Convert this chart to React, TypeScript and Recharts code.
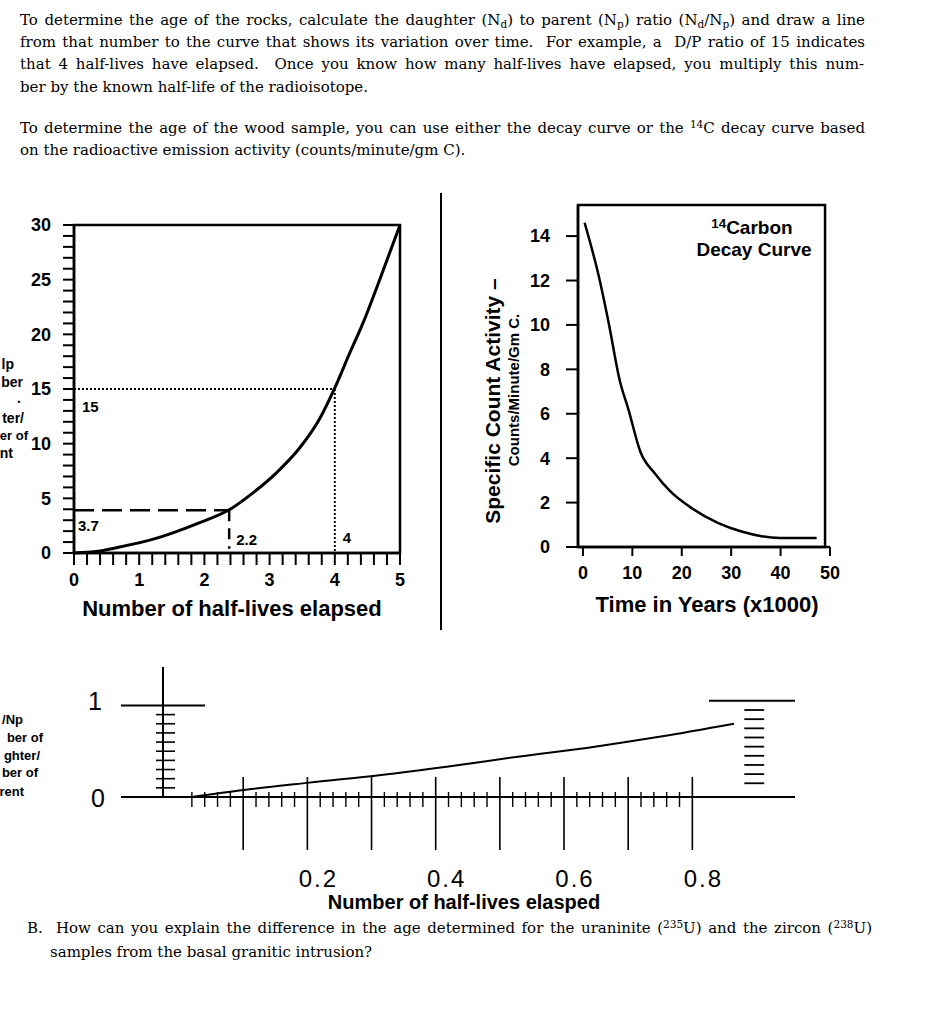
import React from 'react';
import { LineChart, Line, XAxis, YAxis, ReferenceLine, ReferenceArea, ReferenceDot } from 'recharts';

const SANS = '"Liberation Sans", Arial, sans-serif';
const SERIF = '"DejaVu Serif", "Liberation Serif", serif';

// D/P ratio curve, 0..5 half-lives
const halfLives = [0, 0.37, 0.63, 1.19, 1.91, 2.38, 2.74, 3.1, 3.46, 3.77, 4.0, 4.23, 4.43, 4.67, 5];
const dpRatio = [0, 0.15, 0.46, 1.22, 2.74, 3.95, 5.48, 7.31, 9.6, 12.3, 15.1, 18.3, 21.0, 24.7, 30];
const halfLifeTicks = Array.from({ length: 26 }, (_, i) => +(i * 0.2).toFixed(1));
const ratioTicks = Array.from({ length: 31 }, (_, i) => i);

// worked examples drawn on the curve
const exampleRatio = 15;
const exampleHalfLives = 4;
const sampleRatio = 3.9;
const sampleHalfLives = 2.38;
const annotationLabels = ['15', '4', '3.7', '2.2'];

// 14C decay curve
const years = [0.34, 3.2, 5.2, 7.5, 9.2, 11.6, 14.6, 17.7, 22, 27.4, 32.1, 39.9, 47.3];
const activity = [14.6, 12.2, 10.1, 7.45, 6.2, 4.3, 3.3, 2.5, 1.75, 1.08, 0.7, 0.4, 0.4];
const yearTicks = [0, 10, 20, 30, 40, 50];
const activityTicks = [0, 2, 4, 6, 8, 10, 12, 14];

// fine-scale curve, 0..0.9 half-lives
const fineHalfLives = [0.02, 0.101, 0.203, 0.315, 0.417, 0.528, 0.648, 0.751, 0.865];
const fineRatio = [0, 0.077, 0.157, 0.24, 0.331, 0.44, 0.55, 0.66, 0.8];
const fineXTicks = Array.from({ length: 40 }, (_, i) => +((i + 1) * 0.02).toFixed(2));
const fineXLabels = [0.2, 0.4, 0.6, 0.8];
const fineYTicks = [0, 0.1, 0.2, 0.3, 0.4, 0.5, 0.6, 0.7, 0.8, 0.9, 1];
// hand-drawn scale at the right end
const bracketTicks = [0.15, 0.25, 0.35, 0.45, 0.55, 0.65, 0.75, 0.85, 0.95];
const bracketTop = 1.05;

const curveData = halfLives.map((x, i) => ({ x, y: dpRatio[i] }));
const carbonData = years.map((x, i) => ({ x, y: activity[i] }));
const fineData = fineHalfLives.map((x, i) => ({ x, y: fineRatio[i] }));

const boldTick = { fill: '#000', fontSize: 18, fontWeight: 700, fontFamily: SANS };
const axisStroke = { stroke: '#000', strokeWidth: 2.5 };
const tickStroke = { stroke: '#000', strokeWidth: 2 };

const FineXTick = (props: any) => {
  const { x, y, payload } = props;
  const v = payload.value;
  const major = Math.abs(v * 10 - Math.round(v * 10)) < 1e-6;
  const labelled = fineXLabels.some(l => Math.abs(l - v) < 1e-6);
  return (
    <g>
      {major ? (
        <line x1={x} x2={x} y1={y - 20} y2={y + 53} stroke="#000" strokeWidth={1.6} />
      ) : (
        <line x1={x} x2={x} y1={y - 5} y2={y + 10} stroke="#000" strokeWidth={1.4} />
      )}
      {labelled && (
        <text x={x + 11} y={y + 81} textAnchor="middle" dominantBaseline="central"
          fontSize={24} letterSpacing={2} fontFamily={SANS} fill="#000">{v}</text>
      )}
    </g>
  );
};

const FineYTick = (props: any) => {
  const { x, y, payload } = props;
  const v = payload.value;
  if (v === 0) {
    return (
      <g>
        <line x1={x - 42} x2={x} y1={y} y2={y} stroke="#000" strokeWidth={2} />
        <text x={x - 65} y={y + 1} textAnchor="middle" dominantBaseline="central" fontSize={25} fontFamily={SANS} fill="#000">0</text>
      </g>
    );
  }
  if (v === 1) {
    return (
      <g>
        <line x1={x - 42} x2={x + 42} y1={y} y2={y} stroke="#000" strokeWidth={2} />
        <text x={x - 68} y={y - 4} textAnchor="middle" dominantBaseline="central" fontSize={25} fontFamily={SANS} fill="#000">1</text>
      </g>
    );
  }
  return <line x1={x - 7} x2={x + 12} y1={y} y2={y} stroke="#000" strokeWidth={1.6} />;
};

const TextRow = ({ top, left, width, justify, size = 15, children }: any) => (
  <div style={{
    position: 'absolute', top, left, width, fontFamily: SERIF, fontSize: size, lineHeight: '22px',
    textAlign: justify ? 'justify' : 'left', textAlignLast: justify ? 'justify' : 'left',
  }}>{children}</div>
);

const Sub = ({ children }: any) => (
  <span style={{ fontSize: '0.7em', verticalAlign: '-0.3em', lineHeight: 0 }}>{children}</span>
);
const Sup = ({ children }: any) => (
  <span style={{ fontSize: '0.7em', verticalAlign: '0.45em', lineHeight: 0 }}>{children}</span>
);

const Centered = ({ cx, cy, size, width = 400, children }: any) => (
  <div style={{
    position: 'absolute', left: cx - width / 2, top: cy - size * 0.6, width, textAlign: 'center',
    fontFamily: SANS, fontWeight: 700, fontSize: size, lineHeight: `${size * 1.2}px`, whiteSpace: 'nowrap',
  }}>{children}</div>
);

// the scan cuts these axis titles at the page's left edge; only the visible parts are kept
const Fragment = ({ right, cy, size, children }: any) => (
  <div style={{
    position: 'absolute', right: 928 - right, top: cy - size * 0.6, fontFamily: SANS, fontWeight: 700,
    fontSize: size, lineHeight: `${size * 1.2}px`, whiteSpace: 'nowrap',
  }}>{children}</div>
);

const Rotated = ({ cx, cy, size, children }: any) => (
  <div style={{
    position: 'absolute', left: cx, top: cy, transform: 'translate(-50%, -50%) rotate(-90deg)',
    fontFamily: SANS, fontWeight: 700, fontSize: size, lineHeight: 1, whiteSpace: 'nowrap',
  }}>{children}</div>
);

export default function App() {
  return (
    <div style={{ position: 'absolute', left: 0, top: 0, width: 928, height: 1024, overflow: 'hidden', background: '#fff', color: '#000' }}>
      <TextRow top={9} left={20} width={845} justify>
        To determine the age of the rocks, calculate the daughter (N<Sub>d</Sub>) to parent (N<Sub>p</Sub>) ratio (N<Sub>d</Sub>/N<Sub>p</Sub>) and draw a line
      </TextRow>
      <TextRow top={31} left={20} width={845} justify>
        from that number to the curve that shows its variation over time.&nbsp; For example, a&nbsp; D/P ratio of 15 indicates
      </TextRow>
      <TextRow top={53} left={20} width={844} justify>
        that 4 half-lives have elapsed.&nbsp; Once you know how many half-lives have elapsed, you multiply this num-
      </TextRow>
      <TextRow top={76} left={20} width={845}>
        ber by the known half-life of the radioisotope.
      </TextRow>
      <TextRow top={117} left={20} width={845} justify>
        To determine the age of the wood sample, you can use either the decay curve or the <Sup>14</Sup>C decay curve based
      </TextRow>
      <TextRow top={139} left={20} width={845}>
        on the radioactive emission activity (counts/minute/gm C).
      </TextRow>

      {/* left: D/P ratio vs half-lives */}
      <div style={{ position: 'absolute', left: 0, top: 200 }}>
        <LineChart width={420} height={420} data={curveData} margin={{ top: 25, right: 20, left: 0, bottom: 0 }}
          style={{ fontFamily: SANS }}>
          <XAxis dataKey="x" type="number" domain={[0, 5]} ticks={halfLifeTicks} interval={0} height={67}
            tickSize={12} tickMargin={8} axisLine={axisStroke} tickLine={tickStroke} tick={boldTick}
            tickFormatter={(v: number) => (Number.isInteger(v) ? String(v) : '')} />
          <YAxis type="number" domain={[0, 30]} ticks={ratioTicks} interval={0} width={74}
            tickSize={11} tickMargin={12} axisLine={axisStroke} tickLine={tickStroke} tick={boldTick}
            tickFormatter={(v: number) => (v % 5 === 0 ? String(v) : '')} />
          <ReferenceArea x1={0} x2={5} y1={0} y2={30} fill="none" fillOpacity={0} stroke="#000" strokeWidth={2.5} />
          <ReferenceLine segment={[{ x: 0, y: exampleRatio }, { x: exampleHalfLives, y: exampleRatio }]}
            stroke="#000" strokeWidth={2} strokeDasharray="2 2" />
          <ReferenceLine segment={[{ x: exampleHalfLives, y: exampleRatio }, { x: exampleHalfLives, y: 0 }]}
            stroke="#000" strokeWidth={2} strokeDasharray="2 2" />
          <ReferenceLine segment={[{ x: 0, y: sampleRatio }, { x: sampleHalfLives, y: sampleRatio }]}
            stroke="#000" strokeWidth={2.5} strokeDasharray="20 8" />
          <ReferenceLine segment={[{ x: sampleHalfLives, y: sampleRatio }, { x: sampleHalfLives, y: 0.4 }]}
            stroke="#000" strokeWidth={2.5} strokeDasharray="11 7" />
          <ReferenceDot x={0} y={exampleRatio} r={0} fill="none" stroke="none"
            label={{ value: annotationLabels[0], position: 'right', offset: 8, dy: 18, fill: '#000', fontSize: 15, fontWeight: 700 }} />
          <ReferenceDot x={exampleHalfLives} y={0} r={0} fill="none" stroke="none"
            label={{ value: annotationLabels[1], position: 'right', offset: 8, dy: -15, fill: '#000', fontSize: 15, fontWeight: 700 }} />
          <ReferenceDot x={0} y={sampleRatio} r={0} fill="none" stroke="none"
            label={{ value: annotationLabels[2], position: 'right', offset: 4, dy: 15, fill: '#000', fontSize: 15, fontWeight: 700 }} />
          <ReferenceDot x={sampleHalfLives} y={0} r={0} fill="none" stroke="none"
            label={{ value: annotationLabels[3], position: 'right', offset: 7, dy: -13, fill: '#000', fontSize: 15, fontWeight: 700 }} />
          <Line dataKey="y" type="monotone" stroke="#000" strokeWidth={3} dot={false} isAnimationActive={false} />
        </LineChart>
      </div>
      <Centered cx={232} cy={609} size={22}>Number of half-lives elapsed</Centered>
      <Fragment right={14} cy={364} size={14}>lp</Fragment>
      <Fragment right={23} cy={382} size={14}>ber</Fragment>
      <Fragment right={21} cy={398} size={14}>.</Fragment>
      <Fragment right={24} cy={418} size={14}>ter/</Fragment>
      <Fragment right={28} cy={436} size={13}>er of</Fragment>
      <Fragment right={13} cy={453} size={14}>nt</Fragment>

      <div style={{ position: 'absolute', left: 440, top: 193, width: 1.5, height: 437, background: '#000' }} />

      {/* right: 14C decay curve */}
      <div style={{ position: 'absolute', left: 470, top: 190 }}>
        <LineChart width={400} height={440} data={carbonData} margin={{ top: 15, right: 40, left: 0, bottom: 0 }}
          style={{ fontFamily: SANS }}>
          <XAxis dataKey="x" type="number" domain={[-1, 50]} ticks={yearTicks} interval={0} height={83}
            tickSize={9} tickMargin={10} axisLine={axisStroke} tickLine={tickStroke} tick={boldTick} />
          <YAxis type="number" domain={[0, 15.4]} ticks={activityTicks} interval={0} width={108}
            tickSize={12} tickMargin={16} axisLine={axisStroke} tickLine={tickStroke} tick={boldTick} />
          <ReferenceArea x1={-1} x2={49} y1={0} y2={15.4} fill="none" fillOpacity={0} stroke="#000" strokeWidth={2.5} />
          <Line dataKey="y" type="monotone" stroke="#000" strokeWidth={2.5} dot={false} isAnimationActive={false} />
        </LineChart>
      </div>
      <Centered cx={752} cy={228} size={19}><Sup>14</Sup>Carbon</Centered>
      <Centered cx={754} cy={250} size={19}>Decay Curve</Centered>
      <Centered cx={707} cy={605} size={22}>Time in Years (x1000)</Centered>
      <Rotated cx={492} cy={401} size={21}>Specific Count Activity –</Rotated>
      <Rotated cx={513} cy={390} size={15}>Counts/Minute/Gm C.</Rotated>

      {/* bottom: fine scale curve */}
      <div style={{ position: 'absolute', left: 0, top: 640 }}>
        <LineChart width={840} height={260} data={fineData} margin={{ top: 27, right: 45, left: 0, bottom: 0 }}
          style={{ fontFamily: SANS }}>
          <XAxis dataKey="x" type="number" domain={[-0.025, 0.96]} ticks={fineXTicks} interval={0} height={103}
            tickSize={0} tickMargin={0} axisLine={{ stroke: '#000', strokeWidth: 2 }} tickLine={false} tick={FineXTick} />
          <YAxis type="number" domain={[0, 1.42]} ticks={fineYTicks} interval={0} width={163}
            tickSize={0} tickMargin={0} axisLine={{ stroke: '#000', strokeWidth: 2 }} tickLine={false} tick={FineYTick} />
          <ReferenceLine segment={[{ x: 0.826, y: bracketTop }, { x: 0.96, y: bracketTop }]}
            stroke="#000" strokeWidth={2} ifOverflow="visible" />
          {bracketTicks.map(t => (
            <ReferenceLine key={t} segment={[{ x: 0.881, y: t }, { x: 0.912, y: t }]}
              stroke="#000" strokeWidth={1.8} ifOverflow="visible" />
          ))}
          <Line dataKey="y" type="monotone" stroke="#000" strokeWidth={2} dot={false} isAnimationActive={false} />
        </LineChart>
      </div>
      <Fragment right={23} cy={720} size={13}>/Np</Fragment>
      <Fragment right={43} cy={738} size={13}>ber of</Fragment>
      <Fragment right={40} cy={756} size={13}>ghter/</Fragment>
      <Fragment right={38} cy={773} size={13}>ber of</Fragment>
      <Fragment right={24} cy={792} size={13}>rent</Fragment>
      <Centered cx={464} cy={902} size={20}>Number of half-lives elasped</Centered>

      <TextRow top={917} left={27} width={845} justify>
        B.&nbsp; How can you explain the difference in the age determined for the uraninite (<Sup>235</Sup>U) and the zircon (<Sup>238</Sup>U)
      </TextRow>
      <TextRow top={941} left={50} width={820}>
        samples from the basal granitic intrusion?
      </TextRow>
    </div>
  );
}
